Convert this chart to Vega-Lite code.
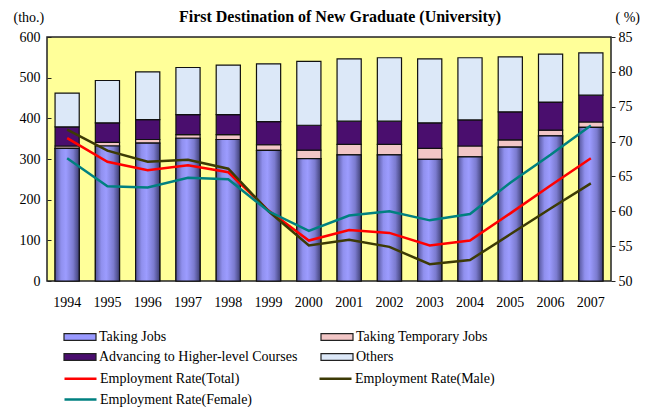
{
  "$schema": "https://vega.github.io/schema/vega-lite/v6.json",
  "width": 564,
  "height": 244,
  "autosize": {"type": "none"},
  "padding": {"left": 47, "top": 37, "right": 42, "bottom": 126},
  "background": "white",
  "config": {
    "view": {"fill": "#FFFF99", "stroke": "#222222", "strokeWidth": 1.5},
    "font": "Liberation Serif",
    "axis": {"labelFont": "Liberation Serif", "titleFont": "Liberation Serif", "labelColor": "#000", "titleColor": "#000", "grid": false, "domain": false},
    "legend": {"labelFont": "Liberation Serif", "labelFontSize": 14, "labelColor": "#000", "labelOffset": 10, "labelLimit": 300, "rowPadding": 4}
  },
  "title": {"text": "First Destination of New Graduate (University)", "font": "Liberation Serif", "fontSize": 16, "fontWeight": "bold", "anchor": "middle", "frame": "group", "dx": 11, "offset": -15, "color": "#000"},
  "datasets": {
    "bars": [
      {"year": "1994", "series": "Taking Jobs", "value": 326},
      {"year": "1994", "series": "Taking Temporary Jobs", "value": 6},
      {"year": "1994", "series": "Advancing to Higher-level Courses", "value": 47},
      {"year": "1994", "series": "Others", "value": 83},
      {"year": "1995", "series": "Taking Jobs", "value": 332},
      {"year": "1995", "series": "Taking Temporary Jobs", "value": 9},
      {"year": "1995", "series": "Advancing to Higher-level Courses", "value": 48},
      {"year": "1995", "series": "Others", "value": 104},
      {"year": "1996", "series": "Taking Jobs", "value": 339},
      {"year": "1996", "series": "Taking Temporary Jobs", "value": 9},
      {"year": "1996", "series": "Advancing to Higher-level Courses", "value": 49},
      {"year": "1996", "series": "Others", "value": 117},
      {"year": "1997", "series": "Taking Jobs", "value": 351},
      {"year": "1997", "series": "Taking Temporary Jobs", "value": 9},
      {"year": "1997", "series": "Advancing to Higher-level Courses", "value": 49},
      {"year": "1997", "series": "Others", "value": 116},
      {"year": "1998", "series": "Taking Jobs", "value": 348},
      {"year": "1998", "series": "Taking Temporary Jobs", "value": 12},
      {"year": "1998", "series": "Advancing to Higher-level Courses", "value": 49},
      {"year": "1998", "series": "Others", "value": 122},
      {"year": "1999", "series": "Taking Jobs", "value": 321},
      {"year": "1999", "series": "Taking Temporary Jobs", "value": 14},
      {"year": "1999", "series": "Advancing to Higher-level Courses", "value": 57},
      {"year": "1999", "series": "Others", "value": 142},
      {"year": "2000", "series": "Taking Jobs", "value": 301},
      {"year": "2000", "series": "Taking Temporary Jobs", "value": 21},
      {"year": "2000", "series": "Advancing to Higher-level Courses", "value": 61},
      {"year": "2000", "series": "Others", "value": 157},
      {"year": "2001", "series": "Taking Jobs", "value": 310},
      {"year": "2001", "series": "Taking Temporary Jobs", "value": 26},
      {"year": "2001", "series": "Advancing to Higher-level Courses", "value": 57},
      {"year": "2001", "series": "Others", "value": 153},
      {"year": "2002", "series": "Taking Jobs", "value": 310},
      {"year": "2002", "series": "Taking Temporary Jobs", "value": 26},
      {"year": "2002", "series": "Advancing to Higher-level Courses", "value": 57},
      {"year": "2002", "series": "Others", "value": 156},
      {"year": "2003", "series": "Taking Jobs", "value": 299},
      {"year": "2003", "series": "Taking Temporary Jobs", "value": 27},
      {"year": "2003", "series": "Advancing to Higher-level Courses", "value": 63},
      {"year": "2003", "series": "Others", "value": 157},
      {"year": "2004", "series": "Taking Jobs", "value": 305},
      {"year": "2004", "series": "Taking Temporary Jobs", "value": 27},
      {"year": "2004", "series": "Advancing to Higher-level Courses", "value": 64},
      {"year": "2004", "series": "Others", "value": 153},
      {"year": "2005", "series": "Taking Jobs", "value": 329},
      {"year": "2005", "series": "Taking Temporary Jobs", "value": 18},
      {"year": "2005", "series": "Advancing to Higher-level Courses", "value": 69},
      {"year": "2005", "series": "Others", "value": 135},
      {"year": "2006", "series": "Taking Jobs", "value": 357},
      {"year": "2006", "series": "Taking Temporary Jobs", "value": 14},
      {"year": "2006", "series": "Advancing to Higher-level Courses", "value": 69},
      {"year": "2006", "series": "Others", "value": 118},
      {"year": "2007", "series": "Taking Jobs", "value": 378},
      {"year": "2007", "series": "Taking Temporary Jobs", "value": 13},
      {"year": "2007", "series": "Advancing to Higher-level Courses", "value": 66},
      {"year": "2007", "series": "Others", "value": 104}
    ],
    "lines": [
      {"year": "1994", "series": "Employment Rate(Total)", "rate": 70.5},
      {"year": "1995", "series": "Employment Rate(Total)", "rate": 67.1},
      {"year": "1996", "series": "Employment Rate(Total)", "rate": 65.9},
      {"year": "1997", "series": "Employment Rate(Total)", "rate": 66.6},
      {"year": "1998", "series": "Employment Rate(Total)", "rate": 65.6},
      {"year": "1999", "series": "Employment Rate(Total)", "rate": 60.1},
      {"year": "2000", "series": "Employment Rate(Total)", "rate": 55.8},
      {"year": "2001", "series": "Employment Rate(Total)", "rate": 57.3},
      {"year": "2002", "series": "Employment Rate(Total)", "rate": 56.9},
      {"year": "2003", "series": "Employment Rate(Total)", "rate": 55.1},
      {"year": "2004", "series": "Employment Rate(Total)", "rate": 55.8},
      {"year": "2005", "series": "Employment Rate(Total)", "rate": 59.7},
      {"year": "2006", "series": "Employment Rate(Total)", "rate": 63.7},
      {"year": "2007", "series": "Employment Rate(Total)", "rate": 67.6},
      {"year": "1994", "series": "Employment Rate(Male)", "rate": 71.7},
      {"year": "1995", "series": "Employment Rate(Male)", "rate": 68.7},
      {"year": "1996", "series": "Employment Rate(Male)", "rate": 67.1},
      {"year": "1997", "series": "Employment Rate(Male)", "rate": 67.4},
      {"year": "1998", "series": "Employment Rate(Male)", "rate": 66.1},
      {"year": "1999", "series": "Employment Rate(Male)", "rate": 60.0},
      {"year": "2000", "series": "Employment Rate(Male)", "rate": 55.1},
      {"year": "2001", "series": "Employment Rate(Male)", "rate": 55.9},
      {"year": "2002", "series": "Employment Rate(Male)", "rate": 54.9},
      {"year": "2003", "series": "Employment Rate(Male)", "rate": 52.4},
      {"year": "2004", "series": "Employment Rate(Male)", "rate": 53.0},
      {"year": "2005", "series": "Employment Rate(Male)", "rate": 56.7},
      {"year": "2006", "series": "Employment Rate(Male)", "rate": 60.4},
      {"year": "2007", "series": "Employment Rate(Male)", "rate": 64.0},
      {"year": "1994", "series": "Employment Rate(Female)", "rate": 67.6},
      {"year": "1995", "series": "Employment Rate(Female)", "rate": 63.6},
      {"year": "1996", "series": "Employment Rate(Female)", "rate": 63.4},
      {"year": "1997", "series": "Employment Rate(Female)", "rate": 64.8},
      {"year": "1998", "series": "Employment Rate(Female)", "rate": 64.6},
      {"year": "1999", "series": "Employment Rate(Female)", "rate": 60.0},
      {"year": "2000", "series": "Employment Rate(Female)", "rate": 57.2},
      {"year": "2001", "series": "Employment Rate(Female)", "rate": 59.4},
      {"year": "2002", "series": "Employment Rate(Female)", "rate": 60.0},
      {"year": "2003", "series": "Employment Rate(Female)", "rate": 58.7},
      {"year": "2004", "series": "Employment Rate(Female)", "rate": 59.6},
      {"year": "2005", "series": "Employment Rate(Female)", "rate": 64.1},
      {"year": "2006", "series": "Employment Rate(Female)", "rate": 68.1},
      {"year": "2007", "series": "Employment Rate(Female)", "rate": 72.3}
    ]
  },
  "encoding": {
    "x": {"field": "year", "type": "ordinal", "scale": {"paddingInner": 0.4, "paddingOuter": 0.2},
      "axis": {"title": null, "labelAngle": 0, "ticks": false, "labelFontSize": 14, "labelPadding": 14}}
  },
  "layer": [
    {
      "data": {"name": "bars"},
      "transform": [{"calculate": "indexof(['Taking Jobs', 'Taking Temporary Jobs', 'Advancing to Higher-level Courses', 'Others'], datum.series)", "as": "stackKey"}],
      "layer": [
        {
          "mark": {"type": "bar", "stroke": "#111111", "strokeWidth": 1.2, "opacity": 1},
          "encoding": {
            "y": {"field": "value", "type": "quantitative", "aggregate": "sum", "stack": "zero",
              "scale": {"domain": [0, 600]},
              "axis": {"title": "(tho.)", "orient": "left", "values": [0, 100, 200, 300, 400, 500, 600], "labelFontSize": 14, "tickSize": -4, "tickColor": "#222", "labelPadding": 11, "titleAngle": 0, "titleFontSize": 14, "titleFontWeight": "normal", "titleX": -34, "titleY": -20, "titleAlign": "left", "titleBaseline": "middle"}},
            "color": {"field": "series", "type": "nominal",
              "sort": ["Taking Jobs", "Taking Temporary Jobs", "Advancing to Higher-level Courses", "Others"],
              "scale": {"domain": ["Taking Jobs", "Taking Temporary Jobs", "Advancing to Higher-level Courses", "Others"],
                "range": ["#9999FF", "#F2C6C6", "#4A0E6E", "#DCE8F8"]},
              "legend": {"title": null, "orient": "none", "direction": "horizontal", "legendX": 24, "legendY": 291, "columns": 2, "columnPadding": 20,
                "symbolType": "M-2,-0.42H2V0.42H-2Z", "symbolSize": 256, "symbolStrokeColor": "#222222", "symbolStrokeWidth": 1.2, "symbolOpacity": 1}
            },
            "order": {"field": "stackKey", "type": "quantitative", "sort": "ascending"}
          }
        },
        {
          "transform": [{"filter": "datum.series === 'Taking Jobs'"}],
          "mark": {"type": "bar", "stroke": "#111111", "strokeWidth": 1.2,
            "fill": {"gradient": "linear", "x1": 0, "x2": 1, "y1": 0, "y2": 0,
              "stops": [{"offset": 0, "color": "#55559A"}, {"offset": 0.25, "color": "#9090EE"}, {"offset": 0.45, "color": "#9C9CFF"}, {"offset": 0.75, "color": "#7B7BCF"}, {"offset": 1, "color": "#3E3E72"}]}},
          "encoding": {
            "y": {"field": "value", "type": "quantitative", "stack": null}
          }
        }
      ]
    },
    {
      "data": {"name": "lines"},
      "mark": {"type": "line", "strokeWidth": 2.5},
      "encoding": {
        "y": {"field": "rate", "type": "quantitative", "scale": {"domain": [50, 85]},
          "axis": {"title": "( %)", "orient": "right", "values": [50, 55, 60, 65, 70, 75, 80, 85], "labelFontSize": 14, "tickSize": 4, "tickColor": "#222", "labelPadding": 3, "titleAngle": 0, "titleFontSize": 14, "titleFontWeight": "normal", "titleX": 4, "titleY": -20, "titleAlign": "left", "titleBaseline": "middle"}},
        "stroke": {"field": "series", "type": "nominal",
          "sort": ["Employment Rate(Total)", "Employment Rate(Male)", "Employment Rate(Female)"],
          "scale": {"domain": ["Employment Rate(Total)", "Employment Rate(Male)", "Employment Rate(Female)"], "range": ["#FF0000", "#3C3A05", "#008080"]},
          "legend": {"title": null, "orient": "none", "direction": "horizontal", "legendX": 24, "legendY": 332, "columns": 2, "columnPadding": 61,
            "symbolType": "M-2,0H2", "symbolSize": 256, "symbolStrokeWidth": 2.5, "symbolOpacity": 1}
        }
      }
    }
  ],
  "resolve": {"scale": {"y": "independent"}}
}
